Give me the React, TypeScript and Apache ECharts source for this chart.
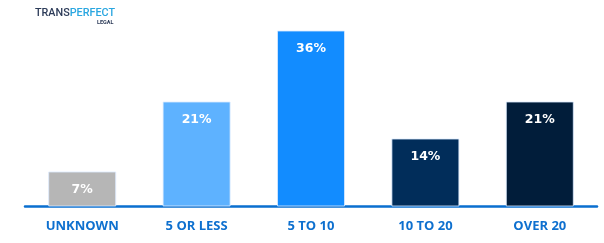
import React, { useEffect, useRef } from "react";
import * as echarts from "echarts";

const categories = ["UNKNOWN", "5 OR LESS", "5 TO 10", "10 TO 20", "OVER 20"];
const values = [7, 21, 35.2, 13.6, 21];
const valueLabels = ["7%", "21%", "36%", "14%", "21%"];
const barColors = ["#B6B6B6", "#5EB2FF", "#128CFF", "#012D5A", "#011D3A"];

export default function App() {
  const ref = useRef<HTMLDivElement>(null);
  useEffect(() => {
    const chart = echarts.init(ref.current!, undefined, { renderer: "svg" });
    chart.setOption({
      animation: false,
      grid: { left: 25, right: 7, top: 6.5, bottom: 36.5 },
      xAxis: {
        type: "category",
        data: categories,
        axisLine: { lineStyle: { color: "#0A6FCF", width: 2.5 } },
        axisTick: { show: false },
        axisLabel: {
          color: "#0E70CF",
          fontFamily: "Open Sans",
          fontWeight: "bold",
          fontSize: 13,
          margin: 12,
        },
      },
      yAxis: { type: "value", min: 0, max: 40, show: false, splitLine: { show: false } },
      series: [
        {
          type: "bar",
          barWidth: 68,
          data: values.map((v, i) => ({
            value: v,
            itemStyle: { color: barColors[i], borderColor: "rgba(220,235,255,0.8)", borderWidth: 1 },
          })),
          label: {
            show: true,
            position: "insideTop",
            distance: 10,
            color: "#FFFFFF",
            fontFamily: "DejaVu Sans",
            fontWeight: "bold",
            fontSize: 12.5,
            formatter: (p: any) => valueLabels[p.dataIndex],
          },
        },
      ],
      graphic: [
        {
          type: "text",
          left: 35,
          top: 7,
          style: {
            text: "{a|TRANS}{b|PERFECT}",
            rich: {
              a: { fill: "#2C3B58", fontFamily: "Roboto", fontSize: 10.8, fontWeight: 500 },
              b: { fill: "#29A6E0", fontFamily: "Roboto", fontSize: 10.8, fontWeight: 500 },
            },
          },
        },
        {
          type: "text",
          left: 97,
          top: 18.5,
          style: { text: "LEGAL", fill: "#2C3B58", fontFamily: "Roboto", fontSize: 5.5, fontWeight: "bold" },
        },
      ],
    });
    return () => chart.dispose();
  }, []);
  return <div ref={ref} style={{ width: 604, height: 243, position: "fixed", left: 0, top: 0 }} />;
}
